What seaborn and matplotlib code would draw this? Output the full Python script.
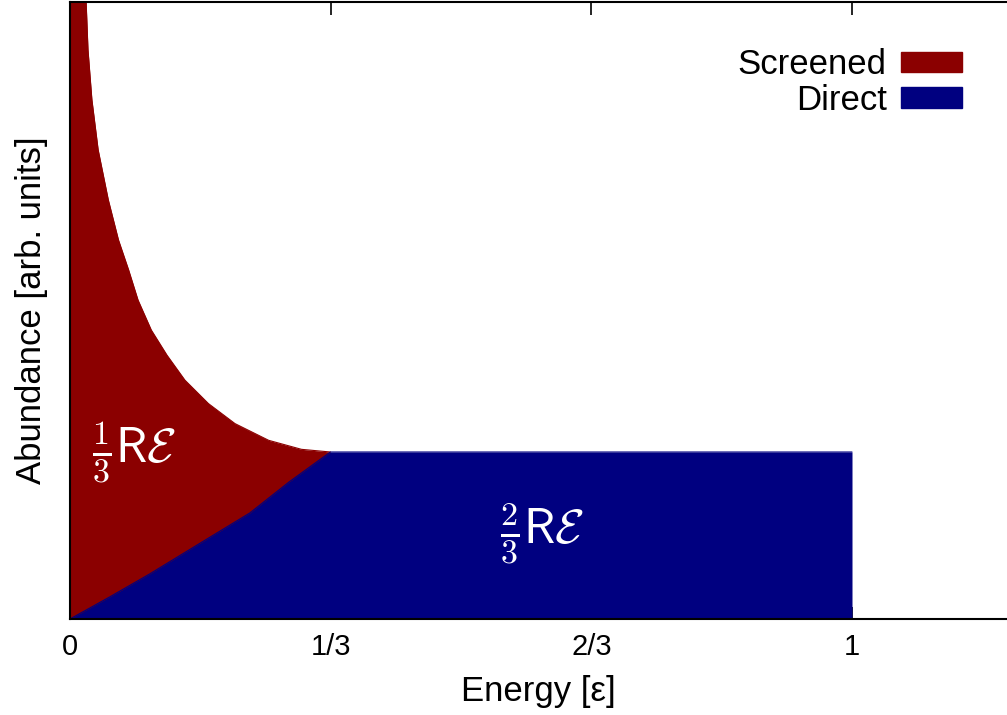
import numpy as np
import pandas as pd
import matplotlib
matplotlib.use("Agg")
import matplotlib.pyplot as plt
import seaborn as sns
from matplotlib.patches import Patch

# Data
screened_x = [0.0, 0.0205, 0.023, 0.028, 0.036, 0.049, 0.062, 0.075, 0.087, 0.104,
              0.124, 0.147, 0.177, 0.211, 0.254, 0.296, 0.333]
screened_y = [3.71, 3.71, 3.41, 3.11, 2.81, 2.51, 2.27, 2.09, 1.91, 1.73,
              1.58, 1.43, 1.29, 1.17, 1.07, 1.016, 1.00]
direct_x = [0.0, 0.05, 0.102, 0.165, 0.230, 0.28, 0.333, 1.0]
direct_y = [0.0, 0.13, 0.27, 0.45, 0.635, 0.82, 1.0, 1.0]
tick_pos = [0, 1/3, 2/3, 1]
tick_labels = ["0", "1/3", "2/3", "1"]
series_names = ["Screened", "Direct"]
series_colors = ["#8b0000", "#000080"]

sns.set_theme(style="white")
plt.rcParams['font.family'] = ['Liberation Sans', 'DejaVu Sans']
plt.rcParams['mathtext.fontset'] = 'cm'
plt.rcParams['text.color'] = 'black'
plt.rcParams['axes.labelcolor'] = 'black'
plt.rcParams['xtick.color'] = 'black'
plt.rcParams['xtick.labelcolor'] = 'black'

fig = plt.figure(figsize=(10.07, 7.15), dpi=100)
ax = fig.add_axes([70/1007, (715-619)/715, 1 - 70/1007, (619-2)/715])

df_s = pd.DataFrame({"x": screened_x, "y": screened_y})
df_d = pd.DataFrame({"x": direct_x, "y": direct_y})

ax.fill_between(df_s["x"], 0, df_s["y"], color=series_colors[0], lw=0, zorder=3)
ax.fill_between(df_d["x"], 0, df_d["y"], color=series_colors[1], lw=0, zorder=3.1)
sns.lineplot(data=df_s, x="x", y="y", color=series_colors[0], lw=0.8, ax=ax,
             sort=False, zorder=3, estimator=None)
sns.lineplot(data=df_d, x="x", y="y", color=series_colors[1], lw=0.8, ax=ax,
             sort=False, zorder=3.1, estimator=None)

ax.set_xlim(0, (1007-70)/782)
ax.set_ylim(0, 617/167)
ax.set_xticks(tick_pos)
ax.set_xticklabels(tick_labels)
ax.set_yticks([])
ax.tick_params(axis='x', which='both', direction='in', length=9, width=1.2,
               top=True, bottom=True, labelsize=21, pad=10, colors='black')
ax.set_xlabel("Energy [ε]", fontsize=25, labelpad=10, color="black")
ax.set_ylabel("Abundance [arb. units]", fontsize=25, labelpad=16, color="black")

for name in ["left", "bottom", "top"]:
    ax.spines[name].set_visible(True)
    ax.spines[name].set_color("black")
    ax.spines[name].set_linewidth(1.5)
    ax.spines[name].set_zorder(4)
ax.spines["right"].set_visible(False)

ax.text(0.028, 1.0, r"$\frac{1}{3}\mathsf{R}\mathcal{E}$", color="white",
        fontsize=35, ha="left", va="center", zorder=5)
ax.text(0.604, 0.515, r"$\frac{2}{3}\mathsf{R}\mathcal{E}$", color="white",
        fontsize=35, ha="center", va="center", zorder=5)

handles = [Patch(facecolor=c, edgecolor=c) for c in series_colors]
leg = ax.legend(handles, series_names, loc="upper right", bbox_to_anchor=(0.952, 0.925),
                frameon=False, markerfirst=False, fontsize=25, handlelength=1.75,
                handleheight=0.55, handletextpad=0.42, labelspacing=0.08,
                borderaxespad=0, borderpad=0)
for t in leg.get_texts():
    t.set_color("black")

fig.savefig("out.png", dpi=100)
